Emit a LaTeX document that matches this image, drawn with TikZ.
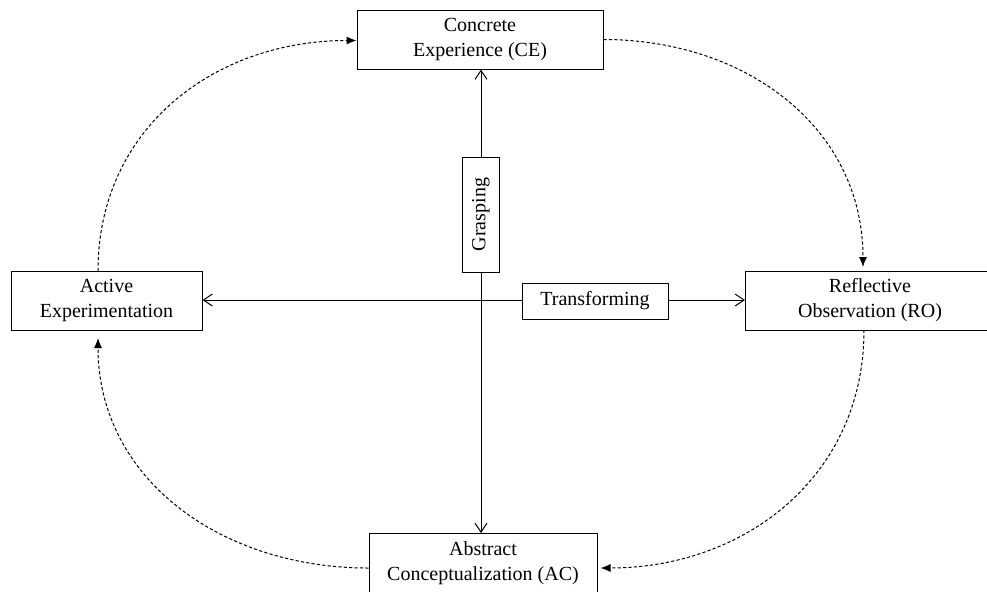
\documentclass[tikz,border=0pt]{standalone}
\usepackage{fontspec}
\setmainfont{Liberation Serif}
\usepackage{graphicx}
\usetikzlibrary{arrows.meta}
\begin{document}
\begin{tikzpicture}[x=0.5pt,y=-0.5pt,
  stage/.style={draw,line width=0.5pt,align=center,inner sep=0pt,
    font=\fontsize{10}{12.5}\selectfont,minimum height=29.5pt},
  dimbox/.style={draw,line width=0.5pt,inner sep=0pt,
    font=\fontsize{10}{12.5}\selectfont},
  dimarrow/.style={line width=0.5pt,-{Straight Barb[length=4.5pt,width=6pt]}},
  learnarrow/.style={dash pattern=on 1.6pt off 1.1pt,line width=0.5pt,
    -{Latex[length=5pt,width=4pt]}}]
\useasboundingbox (0,0) rectangle (987,591);

\node[stage,minimum width=123pt] (ce) at (480,39.5) {Concrete\\Experience (CE)};
\node[stage,minimum width=95.5pt] (ae) at (106.5,300.5) {Active\\Experimentation};
\node[stage,minimum width=124.5pt] (ro) at (870,300.5) {Reflective\\Observation (RO)};
\node[stage,minimum width=114pt] (ac) at (483,563) {Abstract\\Conceptualization (AC)};

\node[dimbox,minimum width=18.5pt,minimum height=57.5pt] (grasp) at (481,214.5) {\rotatebox{90}{Grasping}};
\node[dimbox,minimum width=73pt,minimum height=18pt] (trans) at (595,301) {Transforming};

% grasping and transforming axes
\draw[dimarrow] (grasp.north) -- (grasp.north |- ce.south);
\draw[dimarrow] (grasp.south) -- (grasp.south |- ac.north);
\draw[dimarrow] ([yshift=0.5pt]trans.west) -- ([yshift=0.5pt]trans.west -| ae.east);
\draw[dimarrow] ([yshift=0.5pt]trans.east) -- ([yshift=0.5pt]trans.east -| ro.west);

% the learning cycle
\coordinate (aetop) at (98,271);
\coordinate (aebot) at (98,330);
\coordinate (rotop) at (863,271);
\coordinate (robot) at (864,330);
\draw[learnarrow] (aetop) to[out=90,in=180,looseness=1.05] ([yshift=-0.5pt]ce.west);
\draw[learnarrow,shorten >=2pt] (ce.east) to[out=0,in=90,looseness=1.05] (rotop);
\draw[learnarrow,shorten >=1.5pt] (robot) to[out=-90,in=0,looseness=1.05] ([yshift=-2.5pt]ac.east);
\draw[learnarrow,shorten >=4pt] ([yshift=-2.5pt]ac.west) to[out=180,in=-90,looseness=1.05] (aebot);
\end{tikzpicture}
\end{document}
